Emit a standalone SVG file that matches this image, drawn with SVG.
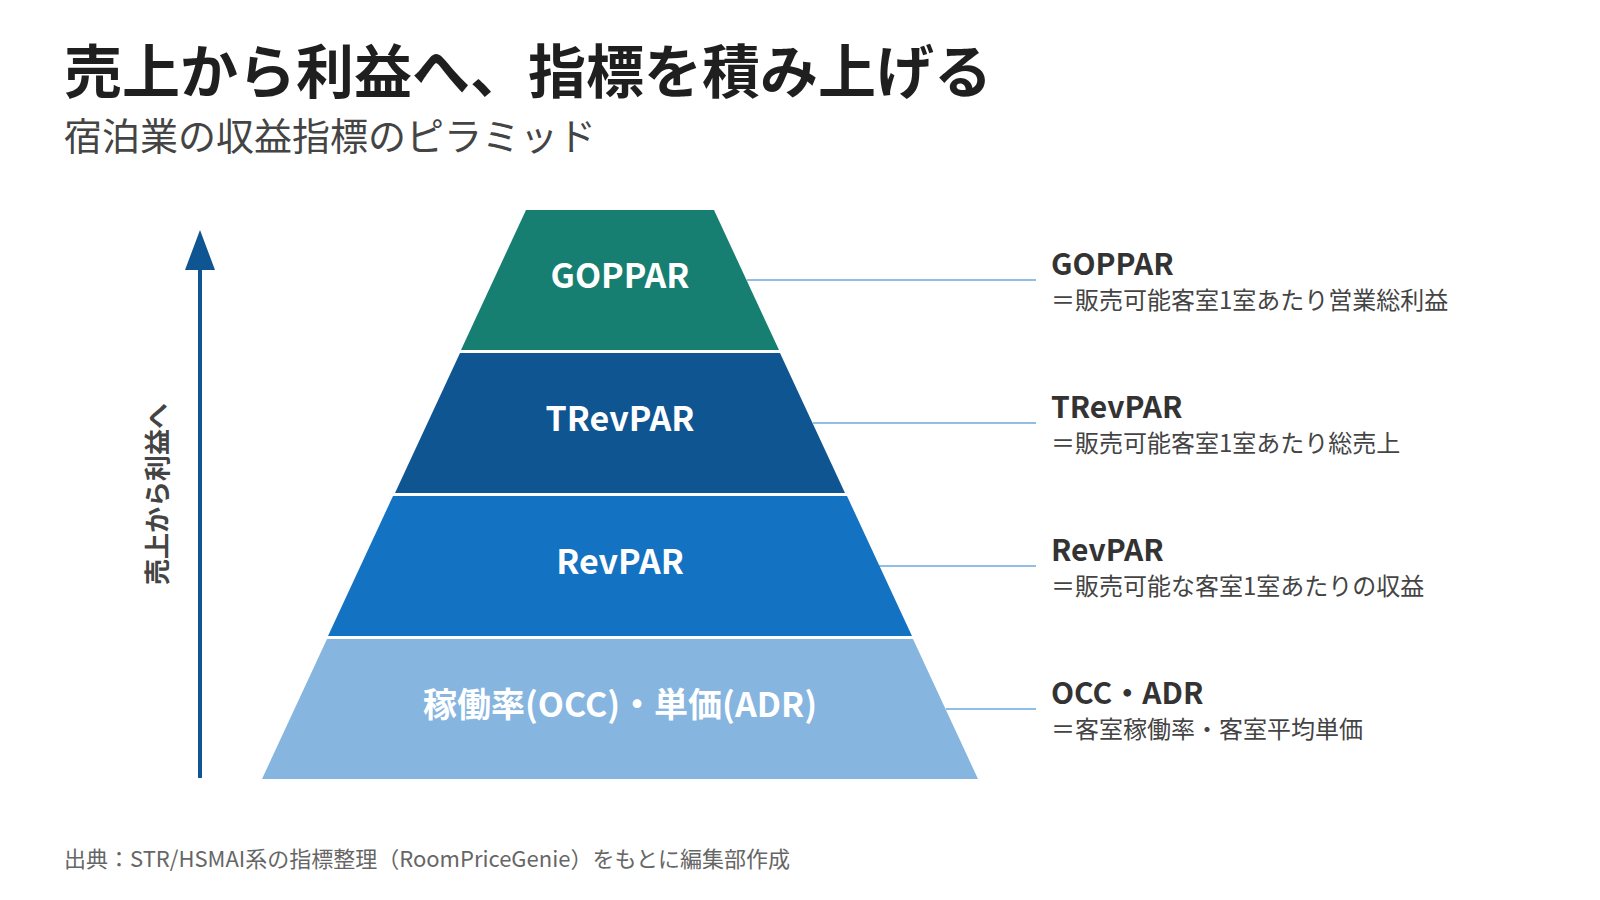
<svg xmlns="http://www.w3.org/2000/svg" width="1600" height="900" viewBox="0 0 1600 900">
<style>
text{font-family:"Noto Sans CJK JP","Noto Sans",sans-serif}
.title{font-size:58px;font-weight:700;fill:#1f1f1f}
.sub{font-size:38px;font-weight:400;fill:#444}
.lab{font-size:34px;font-weight:700;fill:#fff;text-anchor:middle}
.rt{font-size:30px;font-weight:700;fill:#333}
.rd{font-size:24px;font-weight:400;fill:#444}
.foot{font-size:22px;font-weight:400;fill:#666}
.vl{font-size:26px;font-weight:700;fill:#444;text-anchor:middle}
.conn{stroke:#8fbfe6;stroke-width:2;fill:none}
</style>
<rect width="1600" height="900" fill="#fff"/>
<text class="title" x="64" y="93">売上から利益へ、指標を積み上げる</text>
<text class="sub" x="64" y="150">宿泊業の収益指標のピラミッド</text>

<g id="axis">
<line x1="200" y1="778" x2="200" y2="268" stroke="#0f5592" stroke-width="4"/>
<path d="M200 230 L215 270 L185 270 Z" fill="#0f5592"/>
<text class="vl" transform="translate(167 494) rotate(-90)">売上から利益へ</text>
</g>

<g id="connectors">
<line class="conn" x1="747" y1="280" x2="1036" y2="280"/>
<line class="conn" x1="813" y1="423" x2="1036" y2="423"/>
<line class="conn" x1="879" y1="566" x2="1036" y2="566"/>
<line class="conn" x1="946" y1="709" x2="1036" y2="709"/>
</g>

<g id="goppar">
<polygon points="526,210 714,210 779,350 461,350" fill="#177f71"/>
<text class="lab" x="620" y="288">GOPPAR</text>
</g>
<g id="trevpar">
<polygon points="460,353 780,353 845,493 395,493" fill="#0f5592"/>
<text class="lab" x="620" y="431">TRevPAR</text>
</g>
<g id="revpar">
<polygon points="393,496 847,496 912,636 328,636" fill="#1472c2"/>
<text class="lab" x="620" y="574">RevPAR</text>
</g>
<g id="occadr">
<polygon points="327,639 913,639 978,779 262,779" fill="#86b5df"/>
<text class="lab" x="620" y="717">稼働率(OCC)・単価(ADR)</text>
</g>

<g id="desc-goppar">
<text class="rt" x="1051" y="275">GOPPAR</text>
<text class="rd" x="1051" y="309">＝販売可能客室1室あたり営業総利益</text>
</g>
<g id="desc-trevpar">
<text class="rt" x="1051" y="418">TRevPAR</text>
<text class="rd" x="1051" y="452">＝販売可能客室1室あたり総売上</text>
</g>
<g id="desc-revpar">
<text class="rt" x="1051" y="561">RevPAR</text>
<text class="rd" x="1051" y="595">＝販売可能な客室1室あたりの収益</text>
</g>
<g id="desc-occ">
<text class="rt" x="1051" y="704">OCC・ADR</text>
<text class="rd" x="1051" y="738">＝客室稼働率・客室平均単価</text>
</g>

<text class="foot" x="64" y="867">出典：STR/HSMAI系の指標整理（RoomPriceGenie）をもとに編集部作成</text>
</svg>
